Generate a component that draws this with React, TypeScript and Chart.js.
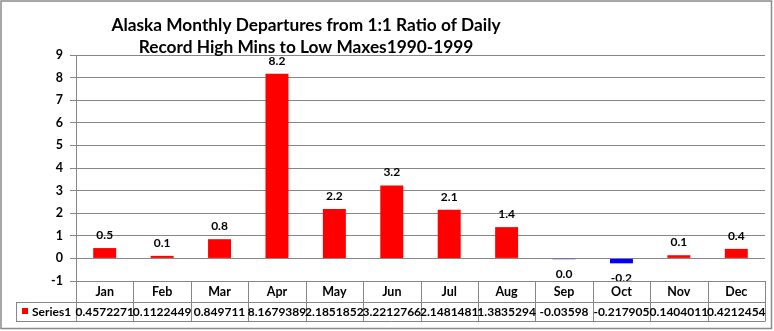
import React, { useEffect, useRef } from "react";
import { Chart, registerables } from "chart.js";

Chart.register(...registerables);

const titleLines = [
  "Alaska Monthly Departures from 1:1 Ratio of Daily",
  "Record High Mins to Low Maxes1990-1999",
];
const months = ["Jan", "Feb", "Mar", "Apr", "May", "Jun", "Jul", "Aug", "Sep", "Oct", "Nov", "Dec"];
const series1 = [
  0.4572271, 0.1122449, 0.849711, 8.1679389, 2.1851852, 3.2212766,
  2.1481481, 1.3835294, -0.03598, -0.217905, 0.1404011, 0.4212454,
];
const seriesName = "Series1";
const yMin = -1;
const yMax = 9;

const FONT = "Lato, 'Open Sans', sans-serif";
const GRID = "#868686";

export default function App() {
  const ref = useRef<HTMLCanvasElement | null>(null);

  useEffect(() => {
    if (!ref.current) return;

    const framePlugin = {
      id: "frame",
      beforeDraw(chart: any) {
        const ctx = chart.ctx;
        ctx.save();
        ctx.fillStyle = "#ffffff";
        ctx.fillRect(0, 0, chart.width, chart.height);
        ctx.strokeStyle = "#8a8a8a";
        ctx.lineWidth = 1.5;
        ctx.strokeRect(1, 1, 770.5, 327.5);
        ctx.restore();
      },
    };

    const titlePlugin = {
      id: "customTitle",
      afterDraw(chart: any) {
        const ctx = chart.ctx;
        ctx.save();
        ctx.fillStyle = "#000";
        ctx.font = `bold 17.3px ${FONT}`;
        ctx.textAlign = "center";
        ctx.textBaseline = "middle";
        ctx.fillText(titleLines[0], 306, 25);
        ctx.fillText(titleLines[1], 306, 47);
        ctx.restore();
      },
    };

    const labelsPlugin = {
      id: "barLabels",
      afterDatasetsDraw(chart: any) {
        const ctx = chart.ctx;
        const area = chart.chartArea;
        const meta = chart.getDatasetMeta(0);
        ctx.save();
        ctx.beginPath();
        ctx.rect(0, 0, chart.width, area.bottom);
        ctx.clip();
        ctx.fillStyle = "#000";
        ctx.font = `bold 12px ${FONT}`;
        ctx.textAlign = "center";
        ctx.textBaseline = "middle";
        meta.data.forEach((bar: any, i: number) => {
          const v = series1[i];
          const txt = (Math.round(v * 10) / 10).toFixed(1);
          const y = v >= 0 ? bar.y - 13 : bar.y + 15;
          ctx.fillText(txt, bar.x, y);
        });
        ctx.restore();
      },
    };

    const tablePlugin = {
      id: "dataTable",
      afterDraw(chart: any) {
        const ctx = chart.ctx;
        const area = chart.chartArea;
        const left = area.left;
        const right = area.right;
        const w = (right - left) / months.length;
        const top = area.bottom;
        const mid = top + 20.5;
        const bot = mid + 19.5;
        const legLeft = 16;
        ctx.save();
        ctx.strokeStyle = GRID;
        ctx.lineWidth = 1;
        ctx.beginPath();
        ctx.moveTo(left, top + 0.5);
        ctx.lineTo(right, top + 0.5);
        ctx.moveTo(legLeft, Math.round(mid) + 0.5);
        ctx.lineTo(right, Math.round(mid) + 0.5);
        ctx.moveTo(legLeft, Math.round(bot) + 0.5);
        ctx.lineTo(right, Math.round(bot) + 0.5);
        for (let i = 0; i <= months.length; i++) {
          const x = Math.round(left + i * w) + 0.5;
          ctx.moveTo(x, top);
          ctx.lineTo(x, Math.round(bot) + 0.5);
        }
        ctx.moveTo(legLeft + 0.5, Math.round(mid) + 0.5);
        ctx.lineTo(legLeft + 0.5, Math.round(bot) + 0.5);
        ctx.stroke();

        ctx.fillStyle = "#000";
        ctx.textAlign = "center";
        ctx.textBaseline = "middle";
        months.forEach((m, i) => {
          const cx = left + (i + 0.5) * w;
          ctx.font = `bold 12.5px ${FONT}`;
          ctx.fillText(m, cx, (top + mid) / 2 + 1);
          ctx.font = `bold 12px ${FONT}`;
          ctx.fillText(String(series1[i]), cx, (mid + bot) / 2 + 1);
        });
        ctx.fillStyle = "#ff0000";
        ctx.fillRect(22, 308, 6, 6);
        ctx.fillStyle = "#000";
        ctx.textAlign = "left";
        ctx.font = `bold 12px ${FONT}`;
        ctx.fillText(seriesName, 32, (mid + bot) / 2 + 1);
        ctx.restore();
      },
    };

    const chart = new Chart(ref.current, {
      type: "bar",
      data: {
        labels: months,
        datasets: [
          {
            label: seriesName,
            data: series1,
            backgroundColor: series1.map((v) => (v < 0 ? "#0000ff" : "#ff0000")),
            borderWidth: 0,
            barPercentage: 0.4,
            categoryPercentage: 1,
          },
        ],
      },
      options: {
        responsive: false,
        animation: false,
        layout: { padding: { left: 0, right: 9, top: 55, bottom: 50 } },
        plugins: {
          legend: { display: false },
          title: { display: false },
          tooltip: { enabled: false },
        },
        scales: {
          x: { display: false },
          y: {
            min: yMin,
            max: yMax,
            afterFit(scale: any) {
              scale.width = 76;
            },
            ticks: {
              stepSize: 1,
              color: "#000",
              font: { family: FONT, size: 12.5, weight: "bold" },
              padding: 7,
            },
            grid: {
              color: GRID,
              lineWidth: 1,
              tickLength: 6,
            },
            border: { display: true, color: GRID, width: 1 },
          },
        },
      },
      plugins: [framePlugin, labelsPlugin, tablePlugin, titlePlugin],
    });

    return () => chart.destroy();
  }, []);

  return (
    <div style={{ position: "fixed", left: 0, top: 0, width: 774, height: 331, background: "#fff" }}>
      <canvas ref={ref} width={774} height={331} />
    </div>
  );
}
